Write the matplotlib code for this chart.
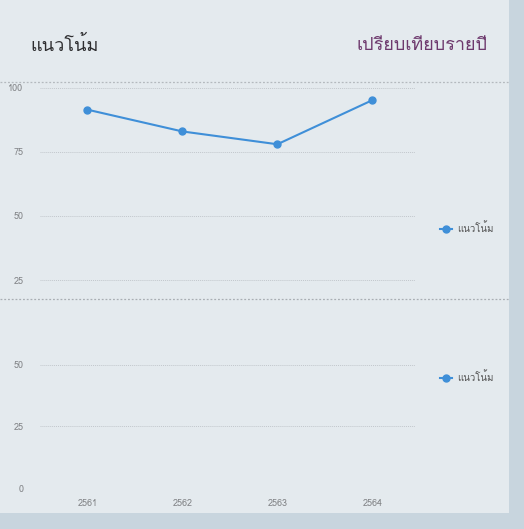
import matplotlib
matplotlib.use('Agg')
import matplotlib.pyplot as plt
from matplotlib import font_manager
from matplotlib.lines import Line2D
from matplotlib.patches import Rectangle

years = ['2561', '2562', '2563', '2564']
trend = [91.5, 83.0, 78.0, 95.2]
series_name = 'แนวโน้ม'
title_left = 'แนวโน้ม'
title_right = 'เปรียบเทียบรายปี'
top_ticks = [25, 50, 75, 100]
bottom_ticks = [0, 25, 50]


def find_thai_font():
    # look for any installed font that has Thai glyphs
    try:
        from fontTools.ttLib import TTFont
    except ImportError:
        return None
    for f in font_manager.fontManager.ttflist:
        try:
            tt = TTFont(f.fname, fontNumber=0, lazy=True)
            cmap = tt.getBestCmap()
            if cmap and 0x0E41 in cmap and 0x0E49 in cmap:
                return f.name
        except Exception:
            continue
    return None


thai = find_thai_font()
fams = [thai, 'DejaVu Sans'] if thai else ['DejaVu Sans']
plt.rcParams['font.family'] = fams

W, H = 524, 529
bg = '#e4eaee'
line_color = '#3f8fd8'
grid_color = '#c2c7cc'
tick_color = '#808285'

fig = plt.figure(figsize=(W / 100, H / 100), dpi=100)
fig.patch.set_facecolor(bg)

# scanned page edges
fig.add_artist(Rectangle((509 / W, 0), 1, 1, transform=fig.transFigure,
                         facecolor='#c8d5de', edgecolor='none', zorder=0))
fig.add_artist(Rectangle((0, 0), 1, 16 / H, transform=fig.transFigure,
                         facecolor='#c8d5de', edgecolor='none', zorder=0))


def fx(px):
    return px / W


def fy(py):
    return 1 - py / H


x = list(range(len(years)))
ax_left = fx(40)
ax_w = fx(415) - fx(40)

# lower (overlapped) copy of the chart
ax_b = fig.add_axes([ax_left, fy(488), ax_w, fy(299) - fy(488)])
# upper copy of the chart
ax_t = fig.add_axes([ax_left, fy(299), ax_w, fy(82) - fy(299)])

line, = ax_t.plot(x, trend, color=line_color, lw=1.5, marker='o', ms=5,
                  label=series_name)

for ax, ticks, ylim in [(ax_t, top_ticks, (17.6, 102.3)),
                        (ax_b, bottom_ticks, (0, 76.8))]:
    ax.set_facecolor('none')
    ax.set_xlim(-0.5, 3.45)
    ax.set_ylim(*ylim)
    ax.set_yticks(ticks)
    ax.set_yticklabels([str(t) for t in ticks])
    for t in ticks:
        ax.axhline(t, color=grid_color, lw=0.7, ls=(0, (1, 1)), zorder=0)
    for s in ax.spines.values():
        s.set_visible(False)
    ax.tick_params(axis='y', length=0, pad=12, labelsize=6.5,
                   labelcolor=tick_color)
    ax.tick_params(axis='x', length=0, pad=8, labelsize=6.5,
                   labelcolor=tick_color)

ax_t.set_xticks([])
ax_b.set_xticks(x)
ax_b.set_xticklabels(years)

# same legend in both copies
for ax, py in ((ax_t, 228), (ax_b, 377)):
    ax.legend(handles=[line], loc='center left',
              bbox_to_anchor=(fx(431), fy(py)), bbox_transform=fig.transFigure,
              frameon=False, fontsize=7, handlelength=1.3, handletextpad=0.5,
              labelcolor='#555555')

# dashed seams of the two overlapped screenshots
for py, col in ((82, '#b4b9be'), (299, '#a9aeb3')):
    fig.add_artist(Line2D([0, fx(509)], [fy(py), fy(py)], transform=fig.transFigure,
                          color=col, lw=0.9, ls=(0, (1.5, 1.5))))

fig.text(fx(30), fy(45), title_left, fontsize=13, color='#2e2e30',
         ha='left', va='center')
fig.text(fx(487), fy(45), title_right, fontsize=13, color='#6e3a6e',
         ha='right', va='center')

fig.savefig('out.png', dpi=100, facecolor=fig.get_facecolor())
